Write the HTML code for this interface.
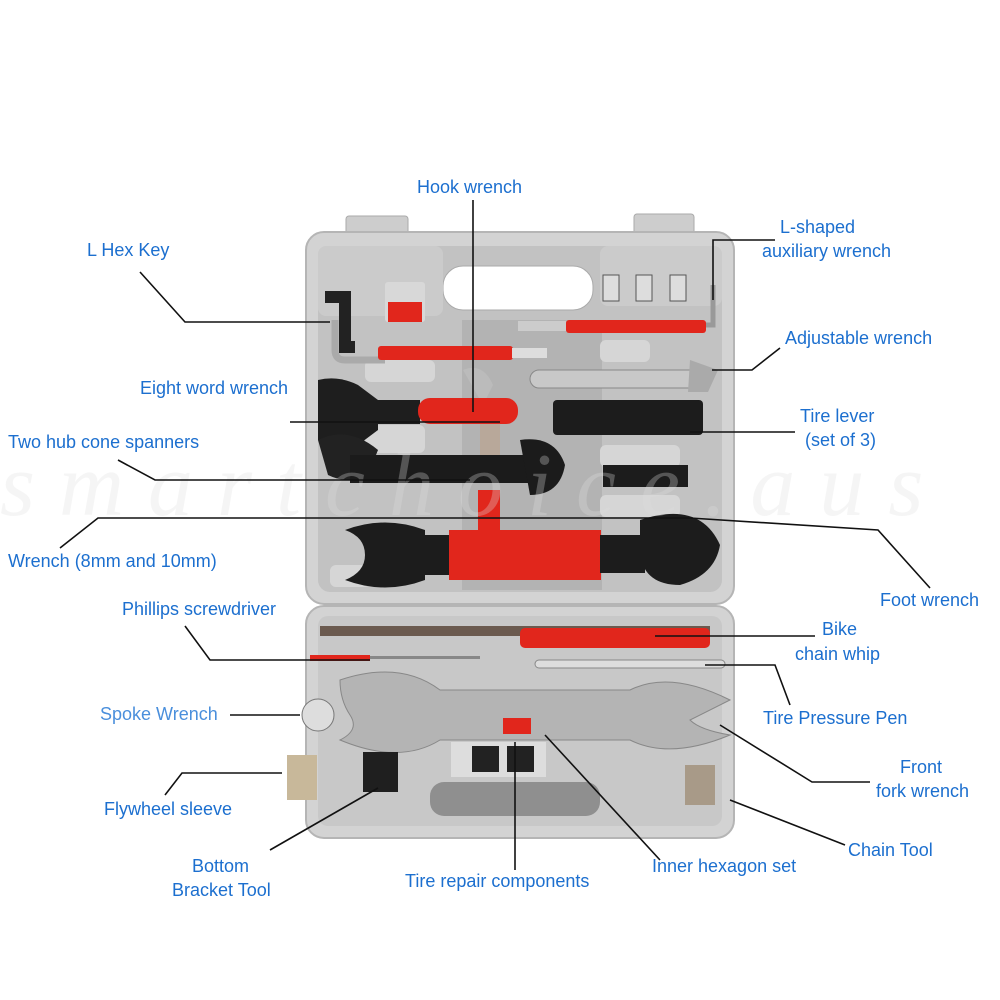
<!DOCTYPE html>
<html><head><meta charset="utf-8"><style>
html,body{margin:0;padding:0;background:#fff;}
svg{display:block}
.l{font-family:"Liberation Sans",sans-serif;font-size:18px;fill:#1c6fcf}
</style></head><body>
<svg width="1000" height="1000" viewBox="0 0 1000 1000" xmlns="http://www.w3.org/2000/svg">
<!-- hinges -->
<rect x="346" y="216" width="62" height="22" rx="3" fill="#cdcdcd" stroke="#aaa"/>
<rect x="634" y="214" width="60" height="24" rx="3" fill="#cdcdcd" stroke="#aaa"/>
<!-- lid -->
<rect x="306" y="232" width="428" height="372" rx="18" fill="#d3d3d3" stroke="#b5b5b5" stroke-width="2"/>
<rect x="318" y="246" width="404" height="346" rx="12" fill="#c2c2c2"/>
<rect x="443" y="266" width="150" height="44" rx="20" fill="#fff" stroke="#aaa"/>
<rect x="318" y="246" width="125" height="70" rx="8" fill="#cbcbcb"/>
<rect x="600" y="246" width="122" height="60" rx="8" fill="#cbcbcb"/>
<rect x="462" y="320" width="140" height="270" fill="#b3b3b3"/>
<!-- pads -->
<g fill="#d6d6d6">
<rect x="365" y="360" width="70" height="22" rx="6"/>
<rect x="365" y="425" width="60" height="28" rx="6"/>
<rect x="600" y="340" width="50" height="22" rx="6"/>
<rect x="600" y="405" width="65" height="22" rx="6"/>
<rect x="600" y="445" width="80" height="22" rx="6"/>
<rect x="600" y="495" width="80" height="22" rx="6"/>
<rect x="330" y="565" width="40" height="22" rx="6"/>
</g>
<!-- L hex key -->
<path d="M325 297 h20 v50 h10" fill="none" stroke="#222" stroke-width="12"/>
<path d="M335 320 v30 q0 10 10 10 h40" fill="none" stroke="#aaa" stroke-width="7"/>
<rect x="378" y="346" width="135" height="14" rx="3" fill="#e1261c"/>
<rect x="512" y="348" width="35" height="10" fill="#ddd"/>
<!-- bits -->
<rect x="385" y="282" width="40" height="40" rx="3" fill="#d8d8d8"/>
<rect x="388" y="302" width="34" height="20" fill="#e1261c"/>
<!-- sockets -->
<rect x="603" y="275" width="16" height="26" fill="#ddd" stroke="#555"/>
<rect x="636" y="275" width="16" height="26" fill="#ddd" stroke="#555"/>
<rect x="670" y="275" width="16" height="26" fill="#ddd" stroke="#555"/>
<path d="M713 285 v40 h-15" fill="none" stroke="#999" stroke-width="5"/>
<rect x="518" y="321" width="48" height="10" fill="#ccc"/>
<rect x="566" y="320" width="140" height="13" rx="3" fill="#e1261c"/>
<!-- adjustable wrench -->
<rect x="530" y="370" width="180" height="18" rx="9" fill="#c8c8c8" stroke="#888"/>
<path d="M690 360 l28 10 -10 22 -20 0z" fill="#aaa"/>
<!-- tire levers -->
<rect x="553" y="400" width="150" height="35" rx="4" fill="#1c1c1c"/>
<!-- hook wrench -->
<path d="M463 370 q20 -8 30 15 l-10 20z" fill="#bbb"/>
<rect x="480" y="420" width="20" height="50" fill="#b8a89a"/>
<!-- eight word wrench -->
<path d="M318 380 q20 -5 40 5 l20 15 v30 l-20 15 q-25 5 -40 -5z" fill="#1e1e1e"/>
<rect x="360" y="400" width="60" height="24" fill="#1e1e1e"/>
<rect x="418" y="398" width="100" height="26" rx="12" fill="#e1261c"/>
<!-- two hub cone spanners -->
<path d="M318 440 q30 -15 60 10 l-10 25 q-20 10 -40 0z" fill="#222"/>
<rect x="350" y="455" width="200" height="28" fill="#1b1b1b"/>
<path d="M520 440 q35 -5 45 25 q-5 30 -35 30z" fill="#1b1b1b"/>
<rect x="603" y="465" width="85" height="22" fill="#1c1c1c"/>
<rect x="478" y="490" width="22" height="40" fill="#e1261c"/>
<!-- big wrench -->
<path d="M345 530 q40 -15 80 0 v50 q-40 15 -80 0 q20 -8 20 -25 q0 -18 -20 -25z" fill="#1c1c1c"/>
<rect x="420" y="535" width="30" height="40" fill="#1c1c1c"/>
<rect x="449" y="530" width="152" height="50" fill="#e1261c"/>
<rect x="600" y="535" width="45" height="38" fill="#1c1c1c"/>
<path d="M640 520 q60 -20 80 25 q-5 30 -40 40 q-35 0 -40 -30z" fill="#1c1c1c"/>
<!-- bottom case -->
<rect x="306" y="606" width="428" height="232" rx="18" fill="#d3d3d3" stroke="#b5b5b5" stroke-width="2"/>
<rect x="318" y="616" width="404" height="210" rx="10" fill="#c8c8c8"/>
<rect x="430" y="782" width="170" height="34" rx="14" fill="#8f8f8f"/>
<!-- chain whip -->
<rect x="320" y="626" width="390" height="10" fill="#6b5a4f"/>
<rect x="520" y="628" width="190" height="20" rx="5" fill="#e1261c"/>
<rect x="310" y="655" width="60" height="6" fill="#e1261c"/>
<rect x="370" y="656" width="110" height="3" fill="#888"/>
<rect x="535" y="660" width="190" height="8" rx="4" fill="#ddd" stroke="#888"/>
<!-- front fork wrench -->
<path d="M340 680 q60 -20 100 10 h190 q40 -20 100 10 l-40 20 q10 10 40 15 q-60 25 -100 5 h-190 q-40 25 -100 0 q20 -10 10 -25 q-10 -15 -10 -35z" fill="#b4b4b4" stroke="#888"/>
<!-- spoke wrench -->
<circle cx="318" cy="715" r="16" fill="#ddd" stroke="#777"/>
<!-- flywheel & bracket -->
<rect x="287" y="755" width="30" height="45" fill="#c8b89a"/>
<rect x="363" y="752" width="35" height="40" fill="#1f1f1f"/>
<!-- tire repair -->
<rect x="451" y="742" width="95" height="35" fill="#ddd"/>
<rect x="472" y="746" width="27" height="26" fill="#222"/>
<rect x="507" y="746" width="27" height="26" fill="#222"/>
<rect x="503" y="718" width="28" height="16" fill="#e1261c"/>
<!-- chain tool -->
<rect x="685" y="765" width="30" height="40" fill="#a89a88"/>
<!-- watermark -->
<text x="0" y="515" font-family="Liberation Serif,serif" font-style="italic" font-size="90" fill="#ddd" fill-opacity="0.3" letter-spacing="24">smartchoice.aus</text>
<!-- leader lines -->
<g stroke="#111" stroke-width="1.6" fill="none">
<path d="M473 200 V412"/>
<path d="M775 240 H713 V300"/>
<path d="M140 272 L185 322 H330"/>
<path d="M780 348 L752 370 H712"/>
<path d="M290 422 H500"/>
<path d="M795 432 H690"/>
<path d="M118 460 L155 480 H470"/>
<path d="M60 548 L98 518 H690 L878 530 L930 588"/>
<path d="M185 626 L210 660 H370"/>
<path d="M815 636 H655"/>
<path d="M790 705 L775 665 H705"/>
<path d="M230 715 H300"/>
<path d="M870 782 H812 L720 725"/>
<path d="M165 795 L182 773 H282"/>
<path d="M845 845 L730 800"/>
<path d="M270 850 L378 788"/>
<path d="M515 870 V742"/>
<path d="M660 860 L545 735"/>
</g>
<!-- labels -->
<text class="l" x="417" y="193">Hook wrench</text>
<text class="l" x="780" y="233">L-shaped</text>
<text class="l" x="762" y="257">auxiliary wrench</text>
<text class="l" x="87" y="256">L Hex Key</text>
<text class="l" x="785" y="344">Adjustable wrench</text>
<text class="l" x="140" y="394">Eight word wrench</text>
<text class="l" x="800" y="422">Tire lever</text>
<text class="l" x="805" y="446">(set of  3)</text>
<text class="l" x="8" y="448">Two hub cone spanners</text>
<text class="l" x="8" y="567">Wrench (8mm and 10mm)</text>
<text class="l" x="880" y="606">Foot wrench</text>
<text class="l" x="122" y="615">Phillips screwdriver</text>
<text class="l" x="822" y="635">Bike</text>
<text class="l" x="795" y="660">chain whip</text>
<text class="l" x="100" y="720" style="fill:#4a8fdc">Spoke Wrench</text>
<text class="l" x="763" y="724">Tire Pressure Pen</text>
<text class="l" x="900" y="773">Front</text>
<text class="l" x="876" y="797">fork wrench</text>
<text class="l" x="104" y="815">Flywheel sleeve</text>
<text class="l" x="848" y="856">Chain Tool</text>
<text class="l" x="192" y="872">Bottom</text>
<text class="l" x="172" y="896">Bracket Tool</text>
<text class="l" x="405" y="887">Tire repair components</text>
<text class="l" x="652" y="872">Inner hexagon set</text>
</svg>
</body></html>
